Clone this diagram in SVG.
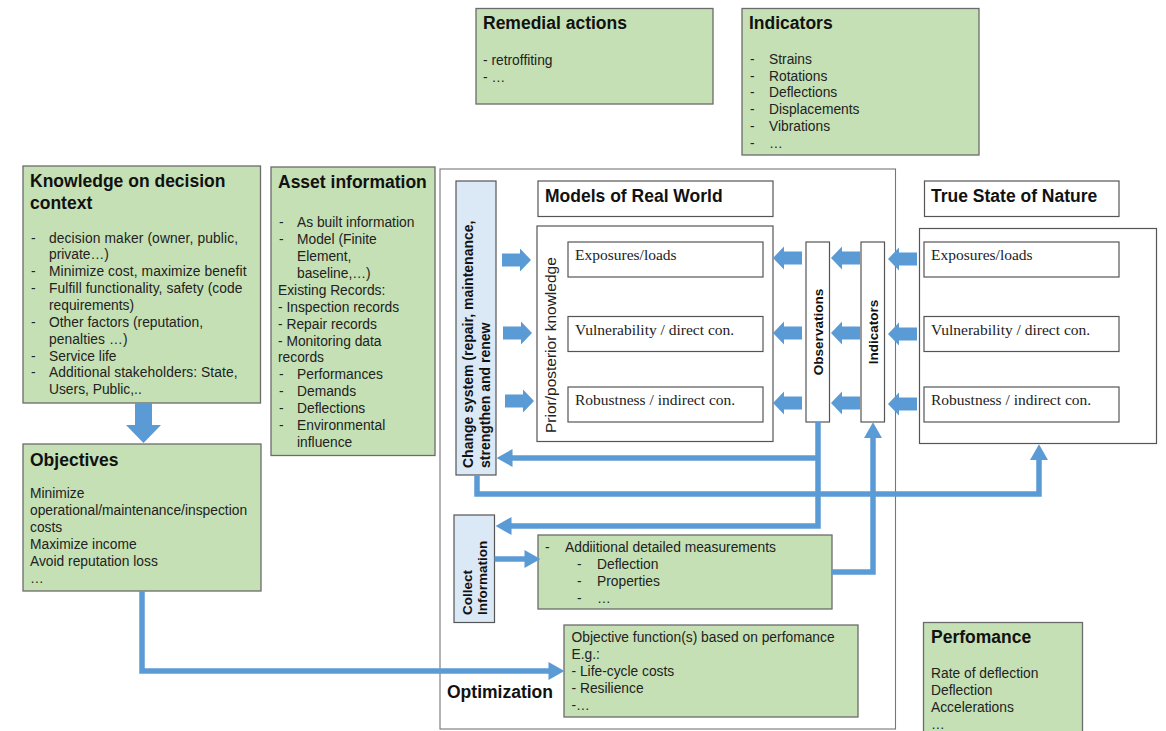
<svg xmlns="http://www.w3.org/2000/svg" width="1166" height="731" viewBox="0 0 1166 731">
<style>
.g{fill:#c5e0b4;stroke:#6b6b6b;stroke-width:1.3}
.w{fill:#fff;stroke:#555;stroke-width:1.2}
.lb{fill:#dbe8f5;stroke:#555;stroke-width:1.2}
.t{font-family:"Liberation Sans",Arial,sans-serif;font-size:17.5px;font-weight:bold;fill:#111}
.b{font-family:"Liberation Sans",Arial,sans-serif;font-size:13.8px;fill:#222}
.bb{font-family:"Liberation Sans",Arial,sans-serif;font-size:13.5px;font-weight:bold;fill:#111}
.s{font-family:"Liberation Serif","Times New Roman",serif;font-size:15.5px;fill:#222}
.k{fill:none;stroke:#5b9bd5;stroke-width:5.5}
</style>
<defs>
<marker id="ah" markerUnits="userSpaceOnUse" markerWidth="16" markerHeight="18" viewBox="0 0 15 17" refX="0.5" refY="8.5" orient="auto">
<path d="M0,0L15,8.5L0,17Z" fill="#5b9bd5"/>
</marker>
<path id="ba" d="M0,-6.5H18V-11.5L29,0L18,11.5V6.5H0Z" fill="#5b9bd5"/>
</defs>

<g id="remedial">
<rect class="g" x="476" y="8.5" width="237" height="95.5"/>
<text class="t" x="483" y="29">Remedial actions</text>
<text class="b" x="483" y="64.5">- retroffiting</text>
<text class="b" x="483" y="81.5">- …</text>
</g>

<g id="indicators-top">
<rect class="g" x="742" y="8.5" width="237" height="146.5"/>
<text class="t" x="749" y="29">Indicators</text>
<g class="b">
<text x="750" y="64">-</text><text x="769" y="64">Strains</text>
<text x="750" y="80.7">-</text><text x="769" y="80.7">Rotations</text>
<text x="750" y="97.4">-</text><text x="769" y="97.4">Deflections</text>
<text x="750" y="114.1">-</text><text x="769" y="114.1">Displacements</text>
<text x="750" y="130.8">-</text><text x="769" y="130.8">Vibrations</text>
<text x="750" y="147.5">-</text><text x="769" y="147.5">…</text>
</g>
</g>

<g id="knowledge">
<rect class="g" x="23" y="166" width="237.5" height="237"/>
<text class="t" x="30" y="187">Knowledge on decision</text>
<text class="t" x="30" y="208.5">context</text>
<g class="b">
<text x="31" y="242.5">-</text><text x="49" y="242.5" textLength="189" lengthAdjust="spacing">decision maker (owner, public,</text>
<text x="49" y="259.4">private…)</text>
<text x="31" y="276.2">-</text><text x="49" y="276.2" textLength="197.5" lengthAdjust="spacing">Minimize cost, maximize benefit</text>
<text x="31" y="293.1">-</text><text x="49" y="293.1" textLength="193.5" lengthAdjust="spacing">Fulfill functionality, safety (code</text>
<text x="49" y="309.9">requirements)</text>
<text x="31" y="326.8">-</text><text x="49" y="326.8" textLength="154" lengthAdjust="spacing">Other factors (reputation,</text>
<text x="49" y="343.6" textLength="78.5" lengthAdjust="spacing">penalties …)</text>
<text x="31" y="360.5">-</text><text x="49" y="360.5">Service life</text>
<text x="31" y="377.3">-</text><text x="49" y="377.3" textLength="188.5" lengthAdjust="spacing">Additional stakeholders: State,</text>
<text x="49" y="394.2">Users, Public,..</text>
</g>
</g>

<g id="asset">
<rect class="g" x="271" y="167" width="164" height="288.5"/>
<text class="t" x="278" y="188">Asset information</text>
<g class="b">
<text x="279" y="227.3">-</text><text x="297" y="227.3">As built information</text>
<text x="279" y="244.2">-</text><text x="297" y="244.2">Model (Finite</text>
<text x="297" y="261.1">Element,</text>
<text x="297" y="277.9">baseline,…)</text>
<text x="278" y="294.8">Existing Records:</text>
<text x="278" y="311.7">- Inspection records</text>
<text x="278" y="328.6">- Repair records</text>
<text x="278" y="345.5">- Monitoring data</text>
<text x="278" y="362.3">records</text>
<text x="279" y="379.2">-</text><text x="297" y="379.2">Performances</text>
<text x="279" y="396.1">-</text><text x="297" y="396.1">Demands</text>
<text x="279" y="413">-</text><text x="297" y="413">Deflections</text>
<text x="279" y="429.9">-</text><text x="297" y="429.9">Environmental</text>
<text x="297" y="446.7">influence</text>
</g>
</g>

<g id="objectives">
<rect class="g" x="23" y="444" width="238" height="147"/>
<text class="t" x="30" y="465.5">Objectives</text>
<g class="b">
<text x="30" y="498.3">Minimize</text>
<text x="30" y="515.3">operational/maintenance/inspection</text>
<text x="30" y="532.3">costs</text>
<text x="30" y="549.3">Maximize income</text>
<text x="30" y="566.3">Avoid reputation loss</text>
<text x="30" y="583.3">…</text>
</g>
</g>

<g id="optimization-frame">
<rect x="440" y="169" width="455.5" height="560" fill="none" stroke="#777" stroke-width="1.1"/>
<text class="t" x="447" y="698">Optimization</text>
</g>

<g id="change-system">
<rect class="lb" x="456" y="181" width="40" height="294"/>
<text class="bb" transform="translate(473,468) rotate(-90)" style="font-size:14px">Change system (repair, maintenance,</text>
<text class="bb" transform="translate(490,468) rotate(-90)" style="font-size:14px">strengthen and renew</text>
</g>

<g id="models-title">
<rect class="w" x="538" y="181" width="235" height="35.5"/>
<text class="t" x="545" y="202">Models of Real World</text>
</g>

<g id="models">
<rect class="w" x="537" y="226" width="236" height="215.5" stroke="#777"/>
<text class="b" transform="translate(555.5,433) rotate(-90)" style="font-size:15.5px">Prior/posterior knowledge</text>
<rect class="w" x="568" y="242" width="195" height="35"/>
<text class="s" x="575" y="260">Exposures/loads</text>
<rect class="w" x="568" y="316.5" width="195" height="35"/>
<text class="s" x="575" y="335">Vulnerability / direct con.</text>
<rect class="w" x="568" y="387" width="195" height="35"/>
<text class="s" x="575" y="405">Robustness / indirect con.</text>
</g>

<g id="observations">
<rect class="w" x="806" y="242" width="23.5" height="180"/>
<text class="bb" text-anchor="middle" transform="translate(823,332) rotate(-90)">Observations</text>
</g>

<g id="indicators">
<rect class="w" x="861" y="242" width="23.5" height="180"/>
<text class="bb" text-anchor="middle" transform="translate(877.5,332) rotate(-90)">Indicators</text>
</g>

<g id="true-title">
<rect class="w" x="924.5" y="181" width="194.5" height="35.5"/>
<text class="t" x="931" y="202">True State of Nature</text>
</g>

<g id="true-state">
<rect class="w" x="919.5" y="228.5" width="237" height="215"/>
<rect class="w" x="924" y="242" width="195" height="35"/>
<text class="s" x="931" y="260">Exposures/loads</text>
<rect class="w" x="924" y="316.5" width="195" height="35"/>
<text class="s" x="931" y="335">Vulnerability / direct con.</text>
<rect class="w" x="924" y="387" width="195" height="35"/>
<text class="s" x="931" y="405">Robustness / indirect con.</text>
</g>

<g id="collect">
<rect class="lb" x="454" y="515" width="40.5" height="107.5"/>
<text class="bb" transform="translate(471.5,615) rotate(-90)">Collect</text>
<text class="bb" transform="translate(487,615) rotate(-90)">Information</text>
</g>

<g id="measurements">
<rect class="g" x="538" y="535" width="294" height="74"/>
<g class="b">
<text x="545" y="551.5">-</text><text x="565" y="551.5">Addiitional detailed measurements</text>
<text x="577" y="568.5">-</text><text x="597" y="568.5">Deflection</text>
<text x="577" y="585.5">-</text><text x="597" y="585.5">Properties</text>
<text x="577" y="602.5">-</text><text x="597" y="602.5">…</text>
</g>
</g>

<g id="objective-function">
<rect class="g" x="564" y="625" width="294" height="92"/>
<g class="b">
<text x="571.5" y="641.5">Objective function(s) based on perfomance</text>
<text x="571.5" y="658.5">E.g.:</text>
<text x="571.5" y="675.5">- Life-cycle costs</text>
<text x="571.5" y="692.5">- Resilience</text>
<text x="571.5" y="709.5">-…</text>
</g>
</g>

<g id="performance">
<rect class="g" x="923.5" y="622.5" width="159" height="120"/>
<text class="t" x="931" y="643">Perfomance</text>
<g class="b">
<text x="931" y="677.5">Rate of deflection</text>
<text x="931" y="694.5">Deflection</text>
<text x="931" y="711.5">Accelerations</text>
<text x="931" y="728.5">…</text>
</g>
</g>

<g id="connectors">
<path d="M135,403H152V425H161L143.5,443L126,425H135Z" fill="#5b9bd5"/>
<use href="#ba" transform="translate(502,260)"/>
<use href="#ba" transform="translate(503,333)"/>
<use href="#ba" transform="translate(505,401)"/>
<use href="#ba" transform="translate(802,258) scale(-1,1)"/>
<use href="#ba" transform="translate(802,333) scale(-1,1)"/>
<use href="#ba" transform="translate(802,403) scale(-1,1)"/>
<use href="#ba" transform="translate(860,258) scale(-1,1)"/>
<use href="#ba" transform="translate(860,333) scale(-1,1)"/>
<use href="#ba" transform="translate(860,403) scale(-1,1)"/>
<use href="#ba" transform="translate(917,259) scale(-1,1)"/>
<use href="#ba" transform="translate(917,334) scale(-1,1)"/>
<use href="#ba" transform="translate(917,404) scale(-1,1)"/>
<path class="k" d="M818,422V526H511" marker-end="url(#ah)"/>
<path class="k" d="M818,458H512" marker-end="url(#ah)"/>
<path class="k" d="M477,475V494H1039V459.5" marker-end="url(#ah)"/>
<path class="k" d="M832,572H873V437.5" marker-end="url(#ah)"/>
<path class="k" d="M494.5,559H525" marker-end="url(#ah)"/>
<path class="k" d="M142,591V671H549" marker-end="url(#ah)"/>
</g>
</svg>
